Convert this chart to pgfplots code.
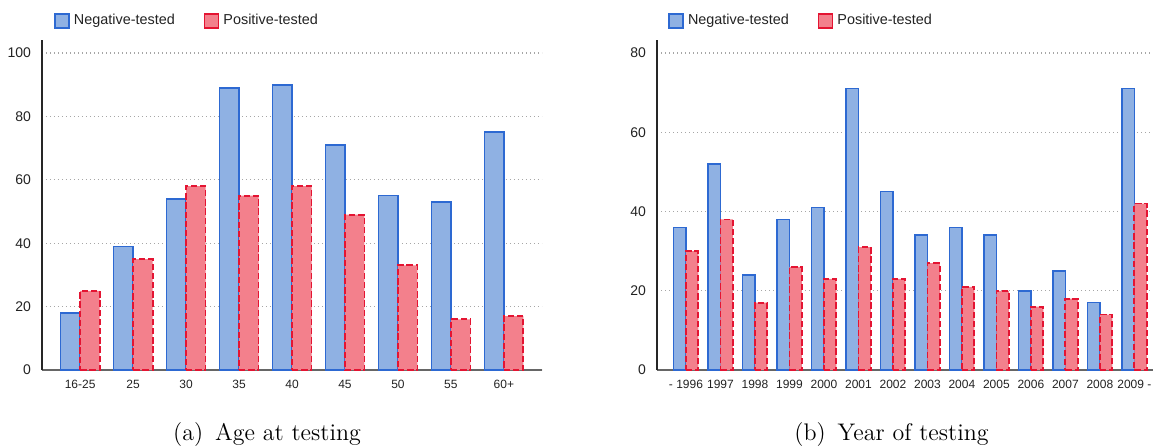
\documentclass[border=0pt]{standalone}
\usepackage{fontspec}
\usepackage{pgfplots}
\pgfplotsset{compat=1.18}
\newfontfamily\arial{Liberation Sans}
\definecolor{negfill}{RGB}{143,177,227}
\definecolor{negdraw}{RGB}{45,105,210}
\definecolor{posfill}{RGB}{243,128,140}
\definecolor{posdraw}{RGB}{228,20,50}
\definecolor{txt}{RGB}{34,34,34}
\pgfplotsset{
  mybars/.style={
    ybar=0pt, scale only axis, height=165pt, ymin=0,
    axis x line*=bottom, axis y line*=left,
    x axis line style={line width=1pt, color=black!60},
    y axis line style={line width=0.6pt, color=black!85},
    major tick length=0pt,
    xtick=data,
    ymajorgrids, grid style={dash pattern=on 0.6pt off 1.4pt, line width=0.6pt, color=black!35},
    yticklabel style={font=\arial\fontsize{7}{8}\selectfont, text=txt, xshift=-2pt},
    xticklabel style={font=\arial\fontsize{6}{7}\selectfont, text=txt, yshift=-1.5pt},
    /pgf/number format/assume math mode=true,
    legend columns=-1,
    legend image code/.code={\draw[##1, solid, line width=0.8pt] (0pt,-3.5pt) rectangle (7pt,3.5pt);},
    legend style={draw=none, fill=none, at={(axis description cs:0,1)}, anchor=west,
      font=\arial\fontsize{7.2}{8}\selectfont, text=txt, inner sep=0pt,
      /tikz/every even column/.append style={column sep=12.5pt}},
  },
  neg/.style={fill=negfill, draw=negdraw, line width=0.8pt},
  pos/.style={fill=posfill, draw=posdraw, line width=0.9pt, dash pattern=on 3.2pt off 1.4pt},
}
\begin{document}
\begin{tikzpicture}
\useasboundingbox (0,0) rectangle (576.5pt,223.5pt);
\begin{axis}[mybars, at={(21pt,38.5pt)}, anchor=south west, width=250pt,
  bar width=9.75pt, xmin=-0.72, xmax=8.72, ymax=104.1, ytick={0,20,40,60,80,100},
  xticklabels={16-25,25,30,35,40,45,50,55,60+},
  legend style={xshift=6pt, yshift=9.5pt}]
\addplot[neg] coordinates {(0,18) (1,39) (2,54) (3,89) (4,90) (5,71) (6,55) (7,53) (8,75)};
\addplot[pos] coordinates {(0,25) (1,35) (2,58) (3,55) (4,58) (5,49) (6,33) (7,16) (8,17)};
\legend{Negative-tested, Positive-tested}
\end{axis}
\begin{axis}[mybars, at={(328.5pt,38.5pt)}, anchor=south west, width=248pt,
  bar width=6.2pt, xmin=-0.84, xmax=13.54, ymax=83.28, ytick={0,20,40,60,80},
  xticklabels={- 1996,1997,1998,1999,2000,2001,2002,2003,2004,2005,2006,2007,2008,2009 -},
  legend style={xshift=5.5pt, yshift=9.5pt}]
\addplot[neg] coordinates {(0,36) (1,52) (2,24) (3,38) (4,41) (5,71) (6,45) (7,34) (8,36) (9,34) (10,20) (11,25) (12,17) (13,71)};
\addplot[pos] coordinates {(0,30) (1,38) (2,17) (3,26) (4,23) (5,31) (6,23) (7,27) (8,21) (9,20) (10,16) (11,18) (12,14) (13,42)};
\legend{Negative-tested, Positive-tested}
\end{axis}
\node[anchor=base, font=\fontsize{12}{14}\selectfont] at (133.5pt,3.5pt) {(a)\hspace{6pt}Age at testing};
\node[anchor=base, font=\fontsize{12}{14}\selectfont] at (445.75pt,3.5pt) {(b)\hspace{6pt}Year of testing};
\end{tikzpicture}
\end{document}
